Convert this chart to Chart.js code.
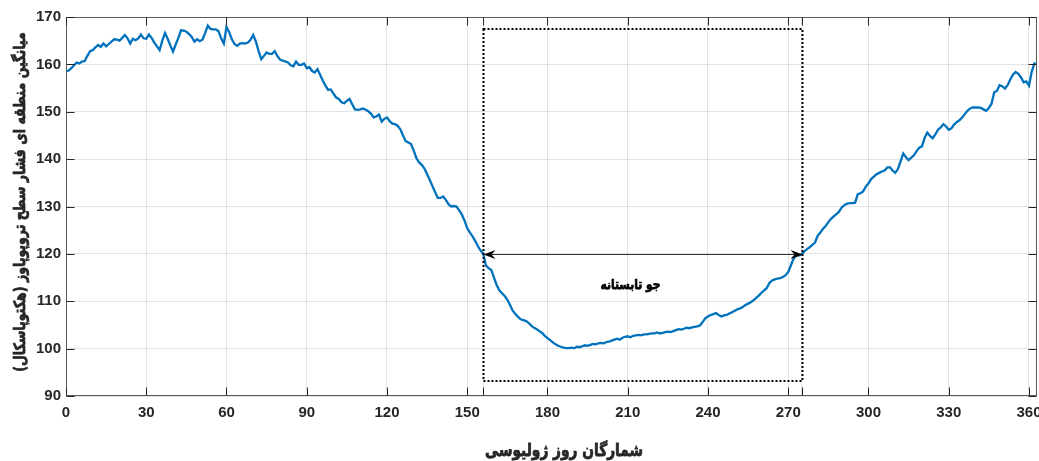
<!DOCTYPE html>
<html lang="fa">
<head>
<meta charset="utf-8">
<title>Tropopause pressure — daily mean</title>
<script src="https://cdn.jsdelivr.net/npm/chart.js@4.4.1/dist/chart.umd.min.js"></script>
<style>
  html, body { margin: 0; padding: 0; background: #fff; }
  canvas { display: block; }
</style>
</head>
<body>
<canvas id="chart" width="1039" height="461"></canvas>
<script>
/* ── Data ──────────────────────────────────────────────────── */
// mean tropopause pressure (hPa), one value per Julian day 0..363
const pressure = [
  158.5, 158.7, 159.2, 159.8, 160.4, 160.2, 160.6, 160.7, 161.8, 162.8,   // 0
  163.0, 163.6, 164.1, 163.7, 164.4, 163.8, 164.3, 164.8, 165.3, 165.2,   // 10
  165.0, 165.6, 166.2, 165.5, 164.4, 165.4, 165.1, 165.5, 166.3, 165.5,   // 20
  165.4, 166.3, 165.6, 164.6, 163.8, 163.0, 165.0, 166.6, 165.4, 164.0,   // 30
  162.7, 164.2, 165.6, 167.2, 167.1, 166.9, 166.4, 165.8, 164.8, 165.3,   // 40
  164.9, 165.2, 166.6, 168.2, 167.5, 167.4, 167.4, 167.0, 165.5, 164.4,   // 50
  167.9, 166.8, 165.3, 164.3, 163.9, 164.4, 164.5, 164.4, 164.6, 165.2,   // 60
  166.2, 164.8, 162.8, 161.1, 161.8, 162.5, 162.2, 162.2, 162.8, 161.8,   // 70
  161.0, 160.8, 160.6, 160.4, 159.8, 159.6, 160.6, 159.9, 159.9, 160.2,   // 80
  159.2, 159.4, 158.6, 158.3, 159.0, 157.8, 156.6, 155.5, 154.6, 154.7,   // 90
  153.8, 153.0, 152.7, 152.0, 151.8, 152.3, 152.7, 151.6, 150.5, 150.4,   // 100
  150.5, 150.7, 150.4, 150.1, 149.6, 148.8, 149.0, 149.4, 147.9, 148.5,   // 110
  148.8, 148.0, 147.5, 147.4, 147.0, 146.3, 145.0, 143.8, 143.5, 143.2,   // 120
  141.8, 140.2, 139.3, 138.8, 138.0, 136.8, 135.6, 134.3, 133.0, 131.8,   // 130
  131.8, 132.1, 131.4, 130.5, 130.0, 130.1, 130.0, 129.2, 128.3, 127.0,   // 140
  125.4, 124.5, 123.7, 122.7, 121.6, 120.7, 120.0, 117.5, 117.0, 116.6,   // 150
  115.0, 113.4, 112.3, 111.7, 111.1, 110.3, 109.2, 108.0, 107.3, 106.7,   // 160
  106.2, 106.0, 105.8, 105.4, 104.8, 104.4, 104.1, 103.7, 103.3, 102.7,   // 170
  102.2, 101.8, 101.3, 100.9, 100.6, 100.4, 100.2, 100.1, 100.1, 100.2,   // 180
  100.1, 100.4, 100.3, 100.5, 100.7, 100.6, 100.8, 101.0, 100.9, 101.1,   // 190
  101.2, 101.1, 101.4, 101.5, 101.7, 101.9, 102.1, 101.9, 102.3, 102.5,   // 200
  102.6, 102.4, 102.7, 102.8, 102.9, 102.8, 103.0, 103.0, 103.1, 103.2,   // 210
  103.2, 103.4, 103.2, 103.3, 103.5, 103.6, 103.5, 103.7, 103.9, 104.1,   // 220
  104.0, 104.2, 104.4, 104.3, 104.5, 104.6, 104.7, 104.9, 105.6, 106.4,   // 230
  106.8, 107.1, 107.3, 107.5, 107.1, 106.8, 107.0, 107.1, 107.4, 107.7,   // 240
  108.0, 108.3, 108.5, 108.8, 109.2, 109.5, 109.8, 110.2, 110.7, 111.2,   // 250
  111.8, 112.3, 112.8, 113.9, 114.4, 114.6, 114.8, 114.9, 115.1, 115.5,   // 260
  116.2, 117.6, 119.0, 119.6, 119.7, 119.9, 120.5, 121.0, 121.4, 121.9,   // 270
  122.4, 123.8, 124.5, 125.3, 125.9, 126.7, 127.4, 127.9, 128.4, 128.9,   // 280
  129.8, 130.3, 130.6, 130.7, 130.7, 130.8, 132.6, 132.8, 133.2, 134.2,   // 290
  134.9, 135.8, 136.3, 136.8, 137.1, 137.4, 137.6, 138.2, 138.3, 137.6,   // 300
  137.1, 137.9, 139.5, 141.2, 140.4, 139.8, 140.3, 140.8, 141.7, 142.4,   // 310
  142.7, 144.5, 145.6, 144.9, 144.4, 145.2, 146.2, 146.7, 147.4, 146.9,   // 320
  146.2, 146.5, 147.3, 147.8, 148.2, 148.8, 149.5, 150.2, 150.7, 150.9,   // 330
  150.9, 150.9, 150.8, 150.5, 150.2, 150.8, 151.7, 154.1, 154.4, 155.6,   // 340
  155.4, 154.9, 155.6, 156.8, 157.8, 158.4, 158.0, 157.3, 156.2, 156.4,   // 350
  155.5, 158.4, 160.2, 160.0                                              // 360
];
const days = pressure.map((_, i) => i);

const xTickValues = [0, 30, 60, 90, 120, 150, 180, 210, 240, 270, 300, 330, 360];
const xExtraTicks = [156, 275];          // unlabelled ticks at the summer window edges
const yTickValues = [90, 100, 110, 120, 130, 140, 150, 160, 170];

const summerStart = 156;
const summerEnd   = 275;
const summerLow   = 93.2;
const summerHigh  = 167.5;
const arrowLevel  = 120;
const labelPos    = [211, 113.3];

const xTitle      = 'شمارگان روز ژولیوسی';
const yTitle      = 'میانگین منطقه ای فشار سطح تروپوپاوز (هکتوپاسکال)';
const summerLabel = 'جو تابستانه';

/* ── Helpers ────────────────────────────────────────────────── */
const AXIS_COLOR = '#262626';
const ARABIC_FONT = '"DejaVu Sans", "Noto Sans", sans-serif';
const STRETCH = 1.25;   // reference uses a tall, heavy Arabic face

// size a bold font so the string spans the width seen in the reference
function fitFont(ctx, text, targetWidth, family) {
  ctx.font = `bold 20px ${family}`;
  const w = ctx.measureText(text).width;
  return `bold ${(20 * targetWidth / w).toFixed(2)}px ${family}`;
}

// heavy, slightly stretched Arabic text centred on (cx, cy)
function heavyText(ctx, text, cx, cy, width, rotation) {
  ctx.save();
  ctx.translate(cx, cy);
  if (rotation) ctx.rotate(rotation);
  ctx.scale(1, STRETCH);
  ctx.direction = 'rtl';
  ctx.textAlign = 'center';
  ctx.textBaseline = 'middle';
  ctx.font = fitFont(ctx, text, width, ARABIC_FONT);
  ctx.lineWidth = 0.6;
  ctx.lineJoin = 'round';
  ctx.strokeStyle = ctx.fillStyle;
  ctx.fillText(text, 0, 0);
  ctx.strokeText(text, 0, 0);
  ctx.restore();
}

function arrowHead(ctx, tipX, tipY, dir) {
  const len = 12, half = 4.5, notch = 8;
  ctx.beginPath();
  ctx.moveTo(tipX, tipY);
  ctx.lineTo(tipX - dir * len, tipY - half);
  ctx.lineTo(tipX - dir * notch, tipY);
  ctx.lineTo(tipX - dir * len, tipY + half);
  ctx.closePath();
  ctx.fill();
}

/* ── Overlay: window, arrow, label, axes box, titles ────────── */
const overlay = {
  id: 'overlay',
  afterDatasetsDraw(chart) {
    const { ctx, chartArea: a, scales: { x, y } } = chart;
    ctx.save();

    // dotted summer window
    ctx.strokeStyle = '#000';
    ctx.lineWidth = 2;
    ctx.setLineDash([2, 2]);
    const x0 = Math.round(x.getPixelForValue(summerStart)) + 0.5;
    const x1 = Math.round(x.getPixelForValue(summerEnd)) + 0.5;
    const yTop = Math.round(y.getPixelForValue(summerHigh));
    const yBot = Math.round(y.getPixelForValue(summerLow));
    ctx.strokeRect(x0, yTop, x1 - x0, yBot - yTop);
    ctx.setLineDash([]);

    // double arrow across the window
    const ay = Math.round(y.getPixelForValue(arrowLevel)) + 0.5;
    ctx.strokeStyle = '#333';
    ctx.lineWidth = 1;
    ctx.beginPath();
    ctx.moveTo(x0 + 8, ay);
    ctx.lineTo(x1 - 8, ay);
    ctx.stroke();
    ctx.fillStyle = '#000';
    arrowHead(ctx, x0, ay, -1);
    arrowHead(ctx, x1, ay, 1);

    // summer label
    heavyText(ctx, summerLabel, x.getPixelForValue(labelPos[0]), y.getPixelForValue(labelPos[1]), 60);

    // axes box with inward ticks (MATLAB style)
    const L = a.left + 0.5, R = a.right - 0.5, T = a.top + 0.5, B = a.bottom - 0.5;
    ctx.strokeStyle = '#5a5a5a';
    ctx.lineWidth = 1;
    ctx.strokeRect(L, T, R - L, B - T);
    const tick = 8;
    ctx.strokeStyle = AXIS_COLOR;
    ctx.beginPath();
    [...xTickValues, ...xExtraTicks].forEach(v => {
      const px = Math.round(x.getPixelForValue(v)) + 0.5;
      ctx.moveTo(px, B); ctx.lineTo(px, B - tick);
      ctx.moveTo(px, T); ctx.lineTo(px, T + tick);
    });
    yTickValues.forEach(v => {
      const py = Math.round(y.getPixelForValue(v)) + 0.5;
      ctx.moveTo(L, py); ctx.lineTo(L + tick, py);
      ctx.moveTo(R, py); ctx.lineTo(R - tick, py);
    });
    ctx.stroke();

    // axis titles
    ctx.fillStyle = AXIS_COLOR;
    heavyText(ctx, xTitle, 564, 452, 158);
    heavyText(ctx, yTitle, 21, 202, 340, -Math.PI / 2);

    ctx.restore();
  }
};

/* ── Chart ──────────────────────────────────────────────────── */
const tickFont = { family: '"Liberation Sans", Arial, sans-serif', size: 15, weight: 'bold' };
const gridColor = 'rgba(38,38,38,0.13)';

new Chart(document.getElementById('chart'), {
  type: 'line',
  data: {
    datasets: [{
      data: days.map((d, i) => ({ x: d, y: pressure[i] })),
      borderColor: '#0072BD',
      borderWidth: 2.3,
      pointRadius: 0,
      tension: 0,
      fill: false
    }]
  },
  options: {
    responsive: false,
    animation: false,
    devicePixelRatio: 1,
    layout: { padding: { top: 17, right: 2, left: 0, bottom: 0 } },
    plugins: { legend: { display: false }, tooltip: { enabled: false } },
    scales: {
      x: {
        type: 'linear', min: 0, max: 363,
        afterBuildTicks: s => {
          s.ticks = [...xTickValues, ...xExtraTicks].sort((p, q) => p - q).map(v => ({ value: v }));
        },
        afterFit: s => { s.height = 65; s.paddingLeft = 0; s.paddingRight = 0; },
        ticks: {
          autoSkip: false, maxRotation: 0, padding: 8,
          color: AXIS_COLOR, font: tickFont,
          callback: v => xTickValues.includes(v) ? String(v) : ''
        },
        grid: { color: gridColor, drawTicks: false },
        border: { display: false }
      },
      y: {
        min: 90, max: 170,
        afterBuildTicks: s => { s.ticks = yTickValues.map(v => ({ value: v })); },
        afterFit: s => { s.width = 66; s.paddingTop = 0; s.paddingBottom = 0; },
        ticks: { padding: 5, color: AXIS_COLOR, font: tickFont },
        grid: { color: gridColor, drawTicks: false },
        border: { display: false }
      }
    }
  },
  plugins: [overlay]
});
</script>
</body>
</html>
